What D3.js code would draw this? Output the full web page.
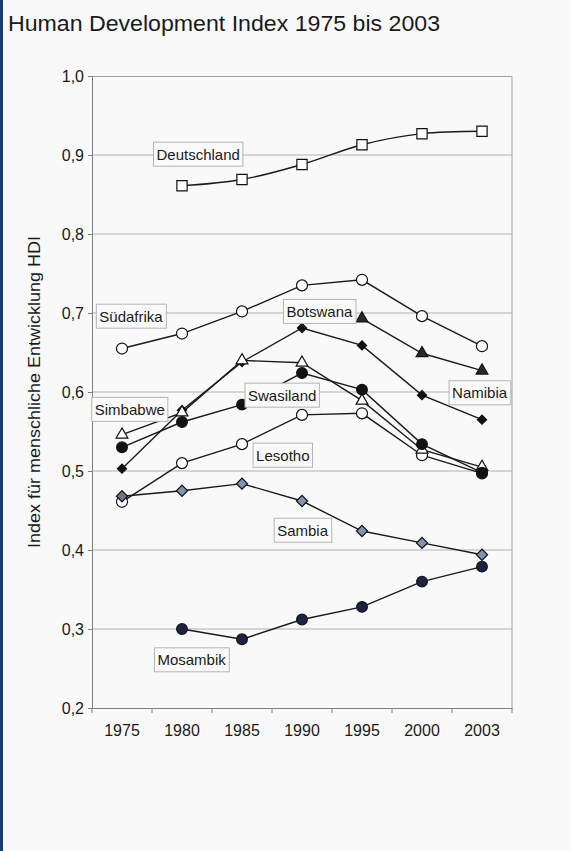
<!DOCTYPE html>
<html>
<head>
<meta charset="utf-8">
<script src="https://cdn.jsdelivr.net/npm/d3@7"></script>
<style>
  html, body { margin: 0; padding: 0; background: #f9f9f9; }
  svg { display: block; }
  text { font-family: "Liberation Sans", Arial, Helvetica, sans-serif; }
</style>
</head>
<body>
<script>
// Years on the category axis
const years = ["1975", "1980", "1985", "1990", "1995", "2000", "2003"];
const yTicks = [0.2, 0.3, 0.4, 0.5, 0.6, 0.7, 0.8, 0.9, 1.0];

// HDI values per country (null = no value)
const deutschland = [null, 0.861, 0.869, 0.888, 0.913, 0.927, 0.930];
const suedafrika  = [0.655, 0.674, 0.702, 0.735, 0.742, 0.696, 0.658];
const namibia     = [null, null, null, null, 0.693, 0.649, 0.627];
const botswana    = [0.503, 0.577, 0.638, 0.681, 0.659, 0.596, 0.565];
const lesotho     = [0.461, 0.510, 0.534, 0.571, 0.573, 0.520, 0.497];
const simbabwe    = [0.546, 0.574, 0.640, 0.637, 0.589, 0.527, 0.505];
const swasiland   = [0.530, 0.562, 0.584, 0.624, 0.603, 0.534, 0.498];
const sambia      = [0.468, 0.475, 0.484, 0.462, 0.424, 0.409, 0.394];
const mosambik    = [null, 0.300, 0.287, 0.312, 0.328, 0.360, 0.379];

// Country labels anchored at (fractional category index, HDI value)
const labelNames  = ["Deutschland", "Südafrika", "Botswana", "Swasiland", "Simbabwe", "Namibia", "Lesotho", "Sambia", "Mosambik"];
const labelIndex  = [1.27, 0.15, 3.29, 2.67, 0.13, 5.96, 2.68, 3.01, 1.16];
const labelValue  = [0.901, 0.696, 0.702, 0.596, 0.578, 0.599, 0.520, 0.425, 0.261];

const W = 571, H = 851;
const margin = { left: 92, top: 76, right: 59, bottom: 143 };
const pw = W - margin.left - margin.right;
const ph = H - margin.top - margin.bottom;

const svg = d3.select("body").append("svg").attr("width", W).attr("height", H);
svg.append("rect").attr("width", W).attr("height", H).attr("fill", "#f9f9f9");
svg.append("rect").attr("x", 0).attr("y", 0).attr("width", 3).attr("height", H).attr("fill", "#1b3c6c");

svg.append("text")
  .attr("x", 8).attr("y", 31)
  .attr("font-size", 21.5).attr("fill", "#1a1a1a")
  .attr("textLength", 432).attr("lengthAdjust", "spacingAndGlyphs")
  .text("Human Development Index 1975 bis 2003");

const g = svg.append("g").attr("transform", `translate(${margin.left},${margin.top})`);

const x = d3.scaleBand().domain(years).range([0, pw]);
const y = d3.scaleLinear().domain([0.2, 1.0]).range([ph, 0]);
const xi = i => x.step() * (i + 0.5);

// horizontal gridlines
g.append("g").selectAll("line").data(yTicks.slice(1, -1)).join("line")
  .attr("x1", 0).attr("x2", pw)
  .attr("y1", d => y(d)).attr("y2", d => y(d))
  .attr("stroke", "#b0b0b0").attr("stroke-width", 1);

// plot frame (top and right)
g.append("path")
  .attr("d", `M0,0.5H${pw}V${ph}`)
  .attr("fill", "none").attr("stroke", "#a0a0a0").attr("stroke-width", 1);

const fmt = d => d3.format(".1f")(d).replace(".", ",");

const yAxis = g.append("g")
  .call(d3.axisLeft(y).tickValues(yTicks).tickFormat(fmt).tickSize(4).tickPadding(4));
yAxis.select(".domain").attr("stroke", "#808080");
yAxis.selectAll(".tick line").attr("stroke", "#808080");
yAxis.selectAll("text").attr("font-size", 16).attr("fill", "#1a1a1a")
  .attr("font-family", "Liberation Sans, Arial, sans-serif");

const xAxis = g.append("g").attr("transform", `translate(0,${ph})`)
  .call(d3.axisBottom(x).tickSize(0).tickPadding(17));
xAxis.select(".domain").attr("stroke", "#808080");
xAxis.selectAll("text").attr("font-size", 16).attr("fill", "#1a1a1a")
  .attr("font-family", "Liberation Sans, Arial, sans-serif");
// tick marks between categories
xAxis.append("g").selectAll("line").data(d3.range(years.length + 1)).join("line")
  .attr("x1", i => i * x.step()).attr("x2", i => i * x.step())
  .attr("y1", 0).attr("y2", 5).attr("stroke", "#808080");

svg.append("text")
  .attr("transform", `translate(40,${margin.top + ph / 2 + 0}) rotate(-90)`)
  .attr("text-anchor", "middle")
  .attr("font-size", 16).attr("fill", "#1a1a1a")
  .attr("textLength", 312).attr("lengthAdjust", "spacingAndGlyphs")
  .text("Index für menschliche Entwicklung HDI");

// square-cornered diamond: a square turned by 45°
const rotated = { draw(ctx, size) { d3.symbolSquare.draw(ctx, size); } };

const series = [
  { name: "Deutschland", values: deutschland, shape: d3.symbolSquare, size: 105, fill: "#ffffff", smooth: true },
  { name: "Südafrika",   values: suedafrika,  shape: d3.symbolCircle, size: 95, fill: "#ffffff" },
  { name: "Namibia",     values: namibia,     shape: d3.symbolTriangle, size: 60, fill: "#2a2a2a" },
  { name: "Botswana",    values: botswana,    shape: rotated, size: 42, fill: "#111111", turn: 45 },
  { name: "Lesotho",     values: lesotho,     shape: d3.symbolCircle, size: 95, fill: "#ffffff" },
  { name: "Simbabwe",    values: simbabwe,    shape: d3.symbolTriangle, size: 60, fill: "#ffffff" },
  { name: "Swasiland",   values: swasiland,   shape: d3.symbolCircle, size: 90, fill: "#111111" },
  { name: "Sambia",      values: sambia,      shape: rotated, size: 62, fill: "#7f93b3", turn: 45 },
  { name: "Mosambik",    values: mosambik,    shape: d3.symbolCircle, size: 90, fill: "#1c2445" }
];

series.forEach(s => {
  const pts = s.values.map((v, i) => ({ i, v })).filter(d => d.v != null);
  const line = d3.line().x(d => xi(d.i)).y(d => y(d.v))
    .curve(s.smooth ? d3.curveCatmullRom.alpha(0.5) : d3.curveLinear);
  g.append("path").datum(pts).attr("d", line)
    .attr("fill", "none").attr("stroke", "#1a1a1a").attr("stroke-width", 1.4);
});

series.forEach(s => {
  const pts = s.values.map((v, i) => ({ i, v })).filter(d => d.v != null);
  g.append("g").selectAll("path").data(pts).join("path")
    .attr("transform", d => `translate(${xi(d.i)},${y(d.v)})` + (s.turn ? ` rotate(${s.turn})` : ""))
    .attr("d", d3.symbol().type(s.shape).size(s.size))
    .attr("fill", d => (s.name === "Sambia" && d.i === 0) ? "#6f7784" : s.fill)
    .attr("stroke", "#111111").attr("stroke-width", 1.2);
});

// country labels in boxes
const labels = g.append("g");
labelNames.forEach((name, k) => {
  const cx = xi(labelIndex[k]), cy = y(labelValue[k]);
  const lg = labels.append("g").attr("transform", `translate(${cx},${cy})`);
  const t = lg.append("text").attr("text-anchor", "middle").attr("dy", "0.36em")
    .attr("font-size", 15).attr("fill", "#1a1a1a").text(name);
  const bb = t.node().getBBox();
  lg.insert("rect", "text")
    .attr("x", bb.x - 3).attr("y", -12).attr("width", bb.width + 6).attr("height", 24)
    .attr("fill", "#fafafa").attr("stroke", "#b4b4b4").attr("stroke-width", 1);
});
</script>
</body>
</html>
